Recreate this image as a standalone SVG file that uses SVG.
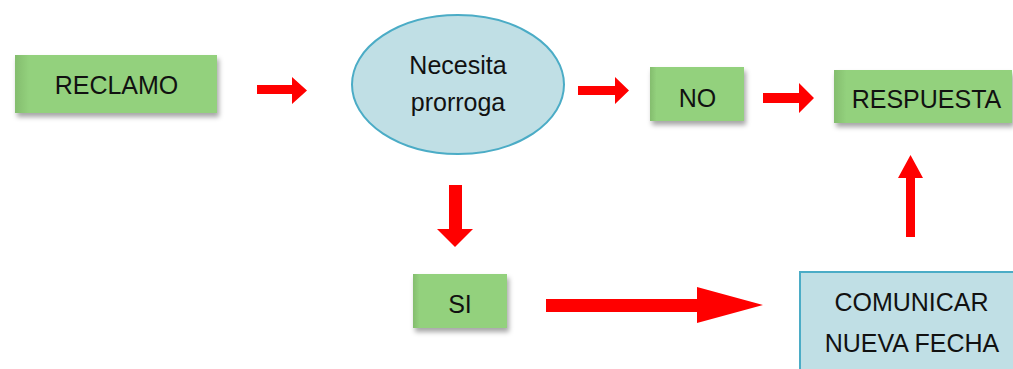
<svg xmlns="http://www.w3.org/2000/svg" width="1013" height="369" viewBox="0 0 1013 369">
<style>
.box{fill:url(#g);filter:url(#sh)}
.blue{fill:#c0dfe5;stroke:#4bacc6;stroke-width:2}
.lbl{font-family:"Liberation Sans",Arial,sans-serif;font-size:25px;fill:#111;text-anchor:middle}
.arr{fill:#ff0000}
</style>
<defs>
<linearGradient id="g" x1="0" y1="0" x2="1" y2="0">
<stop offset="0" stop-color="#84bd6e"/>
<stop offset="0.07" stop-color="#93d17d"/>
<stop offset="1" stop-color="#93d17d"/>
</linearGradient>
<filter id="sh" x="-10%" y="-20%" width="125%" height="150%">
<feDropShadow dx="2" dy="4" stdDeviation="2.5" flood-color="#000" flood-opacity="0.35"/>
</filter>
</defs>
<rect width="1013" height="369" fill="#fff"/>
<g id="reclamo">
<rect class="box" x="15" y="55" width="202" height="58"/>
<text class="lbl" x="116.5" y="94">RECLAMO</text>
</g>
<g id="necesita">
<ellipse class="blue" cx="458" cy="84.5" rx="106" ry="69.5"/>
<text class="lbl" x="458" y="74">Necesita</text>
<text class="lbl" x="458" y="111">prorroga</text>
</g>
<g id="no">
<rect class="box" x="650" y="67" width="94" height="54"/>
<text class="lbl" x="697.5" y="107">NO</text>
</g>
<g id="respuesta">
<rect class="box" x="834" y="70" width="178" height="53"/>
<text class="lbl" x="926.5" y="108">RESPUESTA</text>
</g>
<g id="si">
<rect class="box" x="413" y="274" width="94" height="54"/>
<text class="lbl" x="460" y="313">SI</text>
</g>
<g id="comunicar">
<rect class="blue" x="800" y="272" width="230" height="110"/>
<text class="lbl" x="911.5" y="311">COMUNICAR</text>
<text class="lbl" x="912" y="352">NUEVA FECHA</text>
</g>
<g id="connectors">
<polygon class="arr" points="257,85 292,85 292,77 307,90.5 292,104 292,94 257,94"/>
<polygon class="arr" points="578,86 615,86 615,77 629,90.5 615,104 615,95 578,95"/>
<polygon class="arr" points="763,93 799,93 799,83 814,98 799,113 799,103 763,103"/>
<polygon class="arr" points="449,185 462,185 462,229 473,229 455,247 437,229 449,229"/>
<polygon class="arr" points="546,299 697,299 697,287 763,305 697,323 697,312 546,312"/>
<polygon class="arr" points="906,237 906,178 898,178 910.5,155 923,178 915,178 915,237"/>
</g>
</svg>
